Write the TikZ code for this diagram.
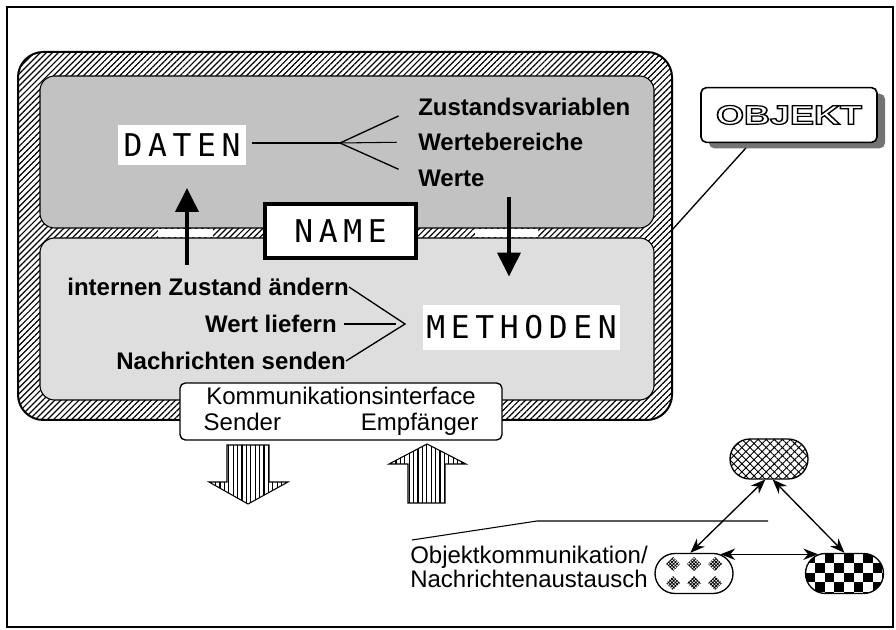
\documentclass[tikz,border=0pt]{standalone}
\usepackage{fontspec}
\setmainfont{Liberation Sans}
\newfontfamily\pixfont[LetterSpace=18]{DejaVu Sans Mono}
\usetikzlibrary{arrows.meta, positioning, shapes.misc, patterns.meta, shadows, calc}
% stroked (hollow) letters
\newcommand{\hollowtext}[1]{\special{pdf:literal direct 1 Tr 0.9 w}#1\special{pdf:literal direct 0 Tr}}

\begin{document}
\begin{tikzpicture}[
        x=0.75pt, y=-0.75pt,
        frame/.style={draw, line width=1.5pt, rounded corners=19pt, pattern={Lines[angle=45,distance=3.2pt,line width=0.9pt]}},
        part/.style={draw, line width=0.8pt, rounded corners=11pt},
        tag/.style={fill=white, inner sep=0pt, font=\pixfont\fontsize{23.5}{24}\selectfont},
        itemtext/.style={font=\bfseries\fontsize{18}{20}\selectfont, inner sep=0pt},
        objbox/.style={draw, fill=white, line width=1.2pt, rounded corners=4pt, minimum width=132pt, minimum height=41pt,
            drop shadow={shadow xshift=6pt, shadow yshift=-4.5pt, fill=black!55, opacity=1}, font=\bfseries\fontsize{20}{20}\selectfont},
        commbox/.style={draw, fill=white, line width=1pt, rounded corners=4pt, minimum width=241.5pt, minimum height=42.75pt,
            inner sep=0pt, align=center, font=\fontsize{18}{19.5}\selectfont},
        bigarrow/.style={draw, line width=0.8pt, pattern={Lines[angle=90,distance=3.3pt,line width=0.8pt]}},
        pill/.style={rounded rectangle, draw, line width=1pt, minimum width=58.5pt, minimum height=30pt, inner sep=0pt},
        flow/.style={line width=3.5pt, -{Triangle[length=18pt,width=17pt]}},
        msg/.style={line width=1pt, {Stealth[length=11pt,width=8.5pt]}-{Stealth[length=11pt,width=8.5pt]}}
    ]
        \useasboundingbox (0,0) rectangle (896,630);
        \draw[line width=1.2pt] (7,7) rectangle (893,627);

        % object with its two parts
        \draw[frame] (18,52) rectangle (672,420);
        \draw[part, fill=black!24] (40,76) rectangle (654,228);
        \draw[part, fill=black!13] (40,238) rectangle (654,400);
        \fill[white] (158,229) rectangle (213,237);
        \fill[white] (475,229) rectangle (538,237);

        \node[tag, minimum width=96pt, minimum height=30pt] (daten) at (182,145) {DATEN};
        \node[tag, draw, line width=3pt, minimum width=113pt, minimum height=40.5pt] (name) at (340.5,231) {NAME};
        \node[tag, minimum width=148pt, minimum height=34pt] (methoden) at (521.5,327.5) {METHODEN};

        % data side
        \node[itemtext, anchor=west] (zustand) at (418,107) {Zustandsvariablen};
        \node[itemtext, anchor=west] (bereich) at (418,142) {Wertebereiche};
        \node[itemtext, anchor=west] (werte) at (418,178) {Werte};
        \coordinate (dfan) at (340,143);
        \draw[line width=0.8pt, shorten <=4pt] (daten.east |- dfan) -- (dfan);
        \draw[line width=1pt, shorten >=16pt] (dfan) -- (zustand.west);
        \draw[line width=0.8pt, shorten >=16pt] (dfan) -- (bereich.west);
        \draw[line width=1pt, shorten >=16pt] (dfan) -- (werte.west);

        % method side
        \node[itemtext, anchor=east] (izust) at (349,287) {internen Zustand ändern};
        \node[itemtext, anchor=east] (wliefern) at (337,324) {Wert liefern};
        \node[itemtext, anchor=east] (nsenden) at (346,361) {Nachrichten senden};
        \coordinate (mfan) at (405,324);
        \draw[line width=1pt] (izust.east) -- (mfan) -- (nsenden.east);
        \draw[line width=0.8pt, shorten <=5pt, shorten >=7pt] (wliefern.east) -- (mfan);

        \coordinate (upfrom) at (187,265);
        \coordinate (downfrom) at (509,197);
        \draw[flow, shorten >=17pt] (upfrom) -- (upfrom |- daten.south);
        \draw[flow, shorten >=21pt] (downfrom) -- (downfrom |- methoden.north);

        % label
        \node[objbox] (objekt) at (789,115) {\scalebox{1.35}[1]{\hollowtext{OBJEKT}}};
        \coordinate (objtip) at (672,230);
        \draw[line width=1pt, shorten <=5pt] (objekt.216) -- (objtip);

        % interface
        \node[commbox] (komm) at (341,411.5) {Kommunikationsinterface\\\hbox to 206pt{Sender\hfill Empfänger}};
        \draw[bigarrow] (227,445) -- (269,445) -- (269,482) -- (288,482) -- (248,504) -- (209,482) -- (227,482) -- cycle;
        \draw[bigarrow] (408,503) -- (445,503) -- (445,464) -- (466,464) -- (427,444) -- (389,464) -- (408,464) -- cycle;

        % message passing
        \node[pill, pattern={Hatch[angle=45,distance=4.3pt,line width=0.7pt]}] (ptop) at (769,459) {};
        \node[pill, fill=white, path picture={
            \foreach \i in {-21,0,21} \foreach \j in {-9.5,9.5}
                \fill[black, pattern={Hatch[angle=45,distance=1.8pt,line width=0.6pt]}] ($(path picture bounding box.center)+(\i,\j)$) +(-7,0) -- +(0,-7) -- +(7,0) -- +(0,7) -- cycle;
        }] (pleft) at (694,573.5) {};
        \node[pill, fill=white, path picture={
            \foreach \i in {0,...,8} \foreach \j in {0,...,4} {
                \pgfmathtruncatemacro\k{mod(\i+\j,2)}
                \ifnum\k=0 \fill[black] ($(path picture bounding box.north west)+(\i*9.6,\j*9.6)$) rectangle ++(9.6,9.6); \fi
            }
        }] (pright) at (844.5,573.5) {};
        \draw[msg] (ptop.-100) -- (pleft.100);
        \draw[msg] (ptop.-80) -- (pright.north);
        \draw[msg] (pleft.36) -- (pright.144);

        \node[anchor=north west, align=left, inner sep=0pt, font=\fontsize{18}{18}\selectfont] (okom) at (410,546) {Objektkommunikation/\\Nachrichtenaustausch};
        \coordinate (okstart) at (412,540);
        \draw[line width=0.8pt] (okstart) -- ++(125,-19) -- ++(231,0);
\end{tikzpicture}
\end{document}
